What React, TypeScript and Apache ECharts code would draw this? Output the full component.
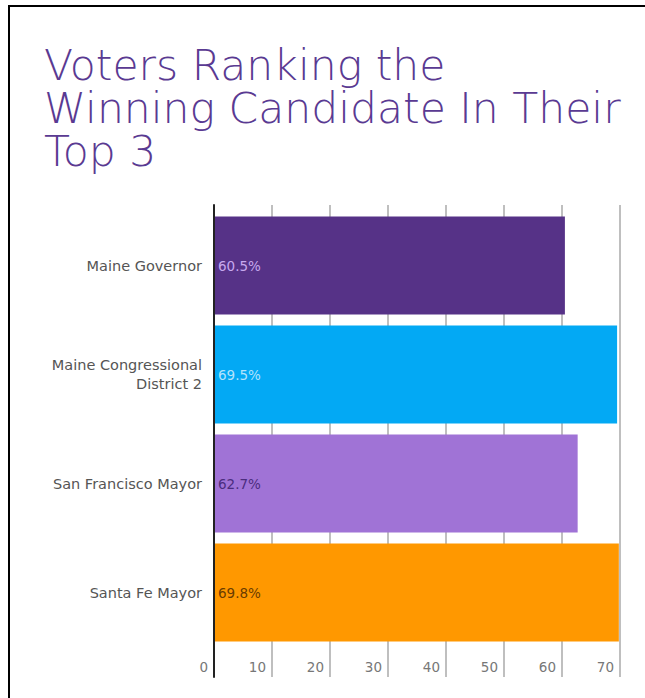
import React, { useEffect, useRef } from "react";
import * as echarts from "echarts";

const categories = ["Maine Governor", "Maine Congressional\nDistrict 2", "San Francisco Mayor", "Santa Fe Mayor"];
const values = [60.5, 69.5, 62.7, 69.8];
const barColors = ["#563287", "#03a9f4", "#a073d6", "#ff9800"];
const labelColors = ["#c7a9ee", "#b3e3fc", "#4b2c7e", "#6a3c00"];
const xTicks = [0, 10, 20, 30, 40, 50, 60, 70];
const titleText = "Voters Ranking the\nWinning Candidate In Their\nTop 3";

const FONT = "'DejaVu Sans', sans-serif";

export default function App() {
  const ref = useRef<HTMLDivElement>(null);
  useEffect(() => {
    if (!ref.current) return;
    const chart = echarts.init(ref.current, null, { renderer: "svg" });
    const xMin = xTicks[0];
    const xMax = xTicks[xTicks.length - 1];
    const option: any = {
      animation: false,
      title: {
        text: titleText,
        left: 29,
        top: 32,
        textStyle: {
          fontFamily: FONT,
          fontWeight: 200,
          fontSize: 42.5,
          lineHeight: 43,
          color: "#5a3a92",
        },
      },
      grid: [
        { left: 204, right: 25, top: 204, bottom: 51 },
        { left: 204, right: 25, top: 198, bottom: 21 },
      ],
      xAxis: [
        {
          gridIndex: 0,
          type: "value",
          min: xMin,
          max: xMax,
          interval: 10,
          show: false,
        },
        {
          gridIndex: 1,
          type: "value",
          min: xMin,
          max: xMax,
          interval: 10,
          axisLine: { show: false },
          axisTick: { show: false },
          splitLine: { show: true, lineStyle: { color: "#aaaaaa", width: 1.5 } },
          axisLabel: {
            margin: -17,
            align: "right",
            padding: [0, 6, 0, 0],
            fontFamily: FONT,
            fontSize: 13.5,
            color: "#777777",
          },
        },
      ],
      yAxis: [
        {
          gridIndex: 0,
          type: "category",
          data: categories,
          inverse: true,
          axisLine: { show: false },
          axisTick: { show: false },
          splitLine: { show: false },
          axisLabel: {
            margin: 12,
            fontFamily: FONT,
            fontSize: 14.5,
            lineHeight: 19,
            color: "#555555",
            align: "right",
          },
        },
        {
          gridIndex: 1,
          type: "value",
          min: 0,
          max: 1,
          z: 5,
          axisLine: { show: true, lineStyle: { color: "#222222", width: 2 } },
          axisTick: { show: false },
          axisLabel: { show: false },
          splitLine: { show: false },
        },
      ],
      series: [
        {
          type: "bar",
          xAxisIndex: 0,
          yAxisIndex: 0,
          barCategoryGap: "10%",
          data: values.map((v, i) => ({
            value: v,
            itemStyle: { color: barColors[i] },
            label: { color: labelColors[i] },
          })),
          label: {
            show: true,
            position: "insideLeft",
            distance: 4,
            fontFamily: FONT,
            fontSize: 13.5,
            formatter: (p: any) => p.value + "%",
          },
        },
        {
          type: "scatter",
          xAxisIndex: 1,
          yAxisIndex: 1,
          data: [],
        },
      ],
    };
    chart.setOption(option);
    return () => chart.dispose();
  }, []);
  return (
    <div
      style={{
        position: "absolute",
        left: 8,
        top: 5,
        width: 660,
        height: 720,
        borderLeft: "2px solid #000",
        borderTop: "2px solid #000",
        boxSizing: "border-box",
        overflow: "hidden",
        background: "#fff",
      }}
    >
      <div ref={ref} style={{ position: "absolute", left: 0, top: 0, width: 635, height: 691 }} />
    </div>
  );
}
